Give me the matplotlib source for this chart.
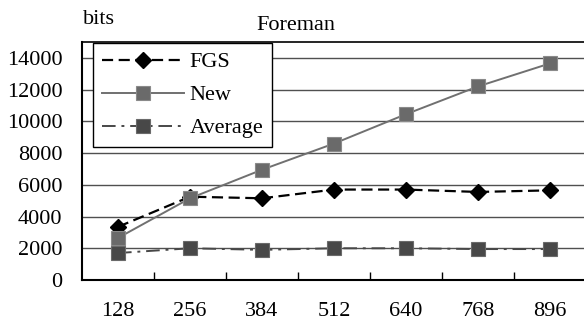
import matplotlib.pyplot as plt

plt.rcParams['font.family'] = ['Liberation Serif', 'DejaVu Serif']

categories = ['128', '256', '384', '512', '640', '768', '896']
fgs = [3350, 5250, 5150, 5700, 5700, 5550, 5650]
new = [2650, 5150, 6950, 8600, 10450, 12200, 13650]
average = [1700, 2000, 1900, 2000, 2000, 1950, 1950]
yticks = [0, 2000, 4000, 6000, 8000, 10000, 12000, 14000]

fig = plt.figure(figsize=(5.84, 3.27), dpi=100)
ax = fig.add_axes([82 / 584, 47 / 327, 504 / 584, 238 / 327])

x = list(range(len(categories)))

ax.plot(x, fgs, color='black', lw=1.6, dashes=(5, 2.5), marker='D',
        markersize=8.5, markerfacecolor='black', markeredgecolor='black',
        label='FGS', zorder=3)
ax.plot(x, new, color='#707070', lw=1.4, marker='s', markersize=10,
        markerfacecolor='#6a6a6a', markeredgecolor='#8a8a8a',
        markeredgewidth=0.8, label='New', zorder=3)
ax.plot(x, average, color='#484848', lw=1.4, dashes=(7, 3, 1.5, 3),
        marker='s', markersize=10, markerfacecolor='#484848',
        markeredgecolor='#6a6a6a', markeredgewidth=0.8,
        label='Average', zorder=4)

ax.set_xlim(-0.5, len(categories) - 0.5)
ax.set_ylim(0, 15000)
ax.set_yticks(yticks)
ax.set_yticklabels([str(v) for v in yticks], fontsize=16)
ax.set_xticks(x)
ax.set_xticklabels(categories, fontsize=16)
ax.set_xticks([i + 0.5 for i in x[:-1]], minor=True)
ax.tick_params(axis='x', which='major', length=0, pad=16)
ax.tick_params(axis='x', which='minor', direction='in', length=6, width=1)
ax.tick_params(axis='y', length=0, pad=14)

for v in yticks[1:]:
    ax.axhline(v, color='#505050', lw=1, zorder=1)

for s in ['left', 'bottom']:
    ax.spines[s].set_linewidth(1.5)
ax.spines['top'].set_linewidth(1.2)
ax.spines['right'].set_visible(False)

leg = ax.legend(loc='upper left', bbox_to_anchor=(93 / 584, 1 - 43 / 327),
                bbox_transform=fig.transFigure, fontsize=16, frameon=True,
                fancybox=False, edgecolor='black', framealpha=1,
                borderaxespad=0, borderpad=0.4, handlelength=3.7,
                handletextpad=0.25, labelspacing=0.56)
leg.get_frame().set_linewidth(1)

fig.text(296 / 584, 1 - 25 / 327, 'Foreman', fontsize=16, ha='center', va='center')
fig.text(83 / 584, 1 - 20 / 327, 'bits', fontsize=16, ha='left', va='center')

fig.savefig('out.png', dpi=100)
